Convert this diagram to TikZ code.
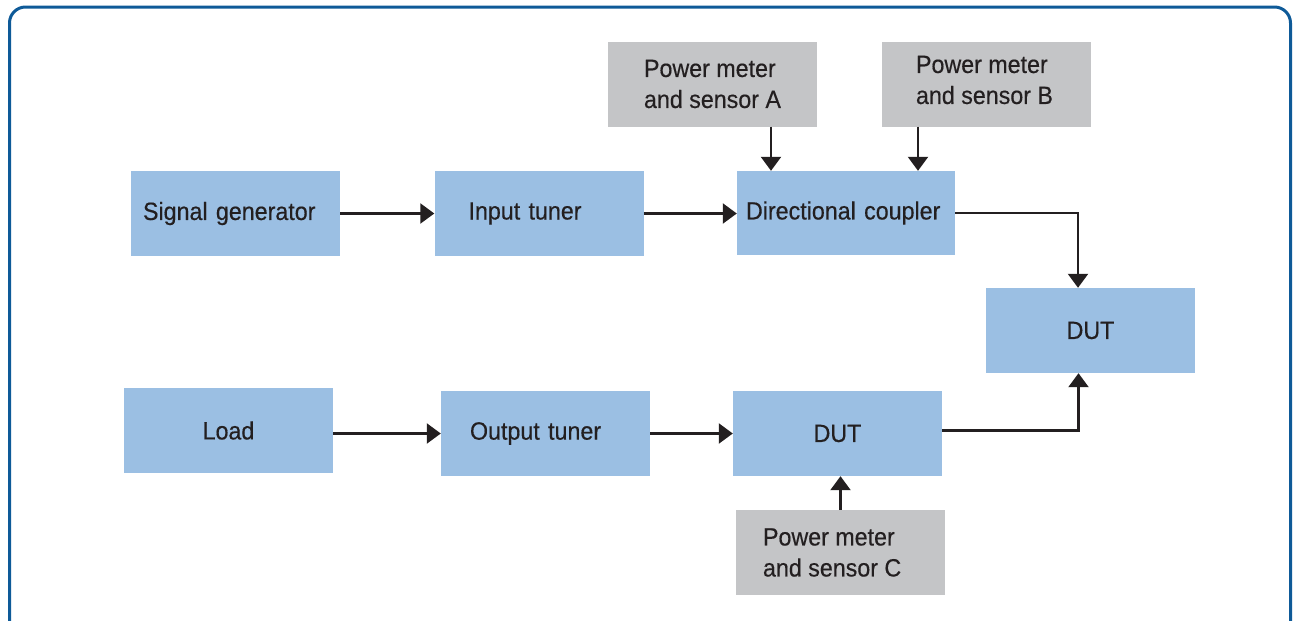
\documentclass[tikz,border=0pt]{standalone}
\usepackage{fontspec}
\setmainfont[FakeStretch=0.93,FakeBold=0.4]{Liberation Sans}
\usetikzlibrary{arrows.meta}
\definecolor{frameblue}{RGB}{14,90,152}
\definecolor{boxblue}{RGB}{155,191,227}
\definecolor{boxgray}{RGB}{196,197,199}
\definecolor{ink}{RGB}{35,31,32}
\tikzset{
  boxfont/.style={font=\fontsize{25}{31}\selectfont, text=ink},
  box/.style={fill=boxblue, minimum width=209pt, minimum height=85pt, inner ysep=0pt,
    boxfont, align=left},
  gbox/.style={box, fill=boxgray},
  lbl/.style={boxfont, align=left, anchor=west, inner xsep=0pt},
  arr/.style={draw=ink, line width=2.2pt, -{Triangle[width=20pt,length=14pt]}},
}
\begin{document}
\begin{tikzpicture}[x=1pt,y=-1pt]
\useasboundingbox (0,0) rectangle (1293,621);
\begin{scope}
\clip (0,0) rectangle (1293,621);
\draw[frameblue, line width=3pt, rounded corners=16pt] (9.5,7) rectangle (1290.5,650);
\end{scope}
\node[box, text width=185pt, inner xsep=12pt] (sg) at (235.5,213.5) {Signal generator};
\node[box, text width=141pt, inner xsep=34pt] (it) at (539,213.5) {Input tuner};
\node[box, minimum width=218pt, minimum height=84pt, text width=200pt, inner xsep=9pt] (dc) at (846,213) {Directional coupler};
\node[gbox, label={[lbl, xshift=36pt]west:Power meter\\and sensor A}] (pma) at (712.5,84) {};
\node[gbox, label={[lbl, xshift=34pt, yshift=4pt]west:Power meter\\and sensor B}] (pmb) at (986.5,84) {};
\node[box, align=center] (dut1) at (1090.5,330.5) {DUT};
\node[box, align=center] (load) at (228.5,430.5) {Load};
\node[box, text width=151pt, inner xsep=29pt] (ot) at (545.5,433.5) {Output tuner};
\node[box, align=center] (dut2) at (837.5,433.5) {DUT};
\node[gbox, label={[lbl, xshift=27pt]west:Power meter\\and sensor C}] (pmc) at (840.5,552.5) {};
\draw[arr] (sg.east) -- (it.west);
\draw[arr] (it.east) -- (it.east -| dc.west);
\draw[arr] ([xshift=58.5pt]pma.south) -- ([xshift=58.5pt]pma.south |- dc.north);
\draw[arr] ([xshift=-68.5pt]pmb.south) -- ([xshift=-68.5pt]pmb.south |- dc.north);
\draw[arr] (dc.east) -| ([xshift=-12.5pt]dut1.north);
\draw[arr] (load.east |- ot.west) -- (ot.west);
\draw[arr] (ot.east) -- (dut2.west);
\draw[arr] (pmc.north) -- (pmc.north |- dut2.south);
\draw[arr] ([yshift=3pt]dut2.east) -| ([xshift=-12pt]dut1.south);
\end{tikzpicture}
\end{document}
